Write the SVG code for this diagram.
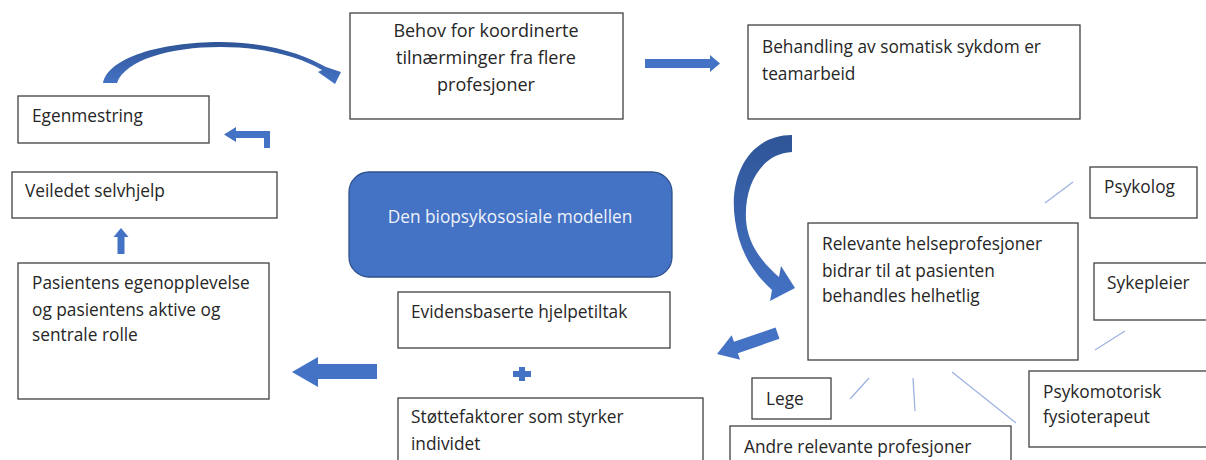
<svg xmlns="http://www.w3.org/2000/svg" width="1206" height="460" viewBox="0 0 1206 460">
<style>
.box{fill:#fff;stroke:#404040;stroke-width:1.3}
.t{font-family:"Open Sans",sans-serif;font-size:17.3px;fill:#262626}
.big{font-size:18px}
.arr{fill:#4472C4}
.curv{fill:url(#g)}
.thin{stroke:#9DB3E0;stroke-width:1.3;fill:none}
</style>
<defs>
<linearGradient id="g" x1="0" y1="0" x2="0" y2="1">
<stop offset="0" stop-color="#2F5597"/>
<stop offset="1" stop-color="#4472C4"/>
</linearGradient>
</defs>
<rect width="1206" height="460" fill="#fff"/>

<g id="connectors">
<path class="curv" d="M103 83 C108 58 160 42 220 42 C270 42 305 55 326 67 L341 72 L335 84 L318 72 L322 70 C300 57 265 47 220 47 C170 47 125 60 117 83 Z"/>
<path class="arr" d="M645 59 L710 59 L710 55 L720 63.5 L710 72 L710 68 L645 68 Z"/>
<path class="curv" d="M792 135 C752 135 728 172 735 220 C739 250 752 272 772 290 L770 301 L795 288 L781 266 L779 277 C762 262 748 245 746 220 C744 180 765 153 792 152 Z"/>
<path class="arr" transform="translate(717,354) rotate(-19)" d="M0 0 L20 -13 L20 -6 L64 -6 L64 6 L20 6 L20 13 Z"/>
<path class="arr" d="M292 372 L318 357 L318 364 L377 364 L377 379 L318 379 L318 387 Z"/>
<path class="arr" d="M121 228 L128.5 237 L124.5 237 L124.5 254 L117.5 254 L117.5 237 L113.5 237 Z"/>
<path class="arr" d="M224 134.5 L236 127 L236 131 L270 131 L270 148 L264 148 L264 138 L236 138 L236 142 Z"/>
<path class="arr" d="M519 367 L525 367 L525 371 L531 371 L531 377 L525 377 L525 381 L519 381 L519 377 L513 377 L513 371 L519 371 Z"/>
<line class="thin" x1="1045" y1="203" x2="1073" y2="182"/>
<line class="thin" x1="1095" y1="350" x2="1125" y2="331"/>
<line class="thin" x1="850" y1="399" x2="869" y2="378"/>
<line class="thin" x1="913" y1="378" x2="915" y2="411"/>
<line class="thin" x1="952" y1="372" x2="1016" y2="423"/>
</g>

<g id="egenmestring">
<rect class="box" x="18" y="96" width="191" height="47"/>
<text class="t" x="32" y="122">Egenmestring</text>
</g>
<g id="veiledet">
<rect class="box" x="12" y="172" width="265" height="46"/>
<text class="t" x="25" y="197">Veiledet selvhjelp</text>
</g>
<g id="pasientens">
<rect class="box" x="18" y="263" width="251" height="136"/>
<text class="t" x="32" y="289">Pasientens egenopplevelse</text>
<text class="t" x="32" y="316">og pasientens aktive og</text>
<text class="t" x="32" y="341">sentrale rolle</text>
</g>
<g id="behov">
<rect class="box" x="350" y="13" width="273" height="106"/>
<text class="t big" x="486" y="37" text-anchor="middle">Behov for koordinerte</text>
<text class="t big" x="486" y="64" text-anchor="middle">tilnærminger fra flere</text>
<text class="t big" x="486" y="91" text-anchor="middle">profesjoner</text>
</g>
<g id="behandling">
<rect class="box" x="748" y="25" width="332" height="94"/>
<text class="t" x="762" y="53">Behandling av somatisk sykdom er</text>
<text class="t" x="762" y="80">teamarbeid</text>
</g>
<g id="modellen">
<rect x="349" y="172" width="323" height="105" rx="20" fill="#4472C4" stroke="#2F528F" stroke-width="1.3"/>
<text class="t" x="510" y="223" text-anchor="middle" style="fill:#EEF2FA">Den biopsykososiale modellen</text>
</g>
<g id="evidens">
<rect class="box" x="398" y="292" width="272" height="56"/>
<text class="t" x="411" y="318">Evidensbaserte hjelpetiltak</text>
</g>
<g id="stotte">
<rect class="box" x="398" y="398" width="305" height="70"/>
<text class="t" x="411" y="423">Støttefaktorer som styrker</text>
<text class="t" x="411" y="450">individet</text>
</g>
<g id="relevante">
<rect class="box" x="808" y="223" width="270" height="137"/>
<text class="t" x="822" y="250">Relevante helseprofesjoner</text>
<text class="t" x="822" y="277">bidrar til at pasienten</text>
<text class="t" x="822" y="302">behandles helhetlig</text>
</g>
<g id="psykolog">
<rect class="box" x="1090" y="167" width="107" height="51"/>
<text class="t" x="1104" y="193">Psykolog</text>
</g>
<g id="sykepleier">
<rect class="box" x="1094" y="263" width="120" height="57"/>
<text class="t" x="1107" y="289">Sykepleier</text>
</g>
<g id="psykomotorisk">
<rect class="box" x="1029" y="371" width="185" height="76"/>
<text class="t" x="1043" y="398">Psykomotorisk</text>
<text class="t" x="1043" y="423">fysioterapeut</text>
</g>
<g id="lege">
<rect class="box" x="752" y="378" width="79" height="41"/>
<text class="t" x="766" y="405">Lege</text>
</g>
<g id="andre">
<rect class="box" x="730" y="426" width="281" height="44"/>
<text class="t" x="744" y="453">Andre relevante profesjoner</text>
</g>
</svg>
